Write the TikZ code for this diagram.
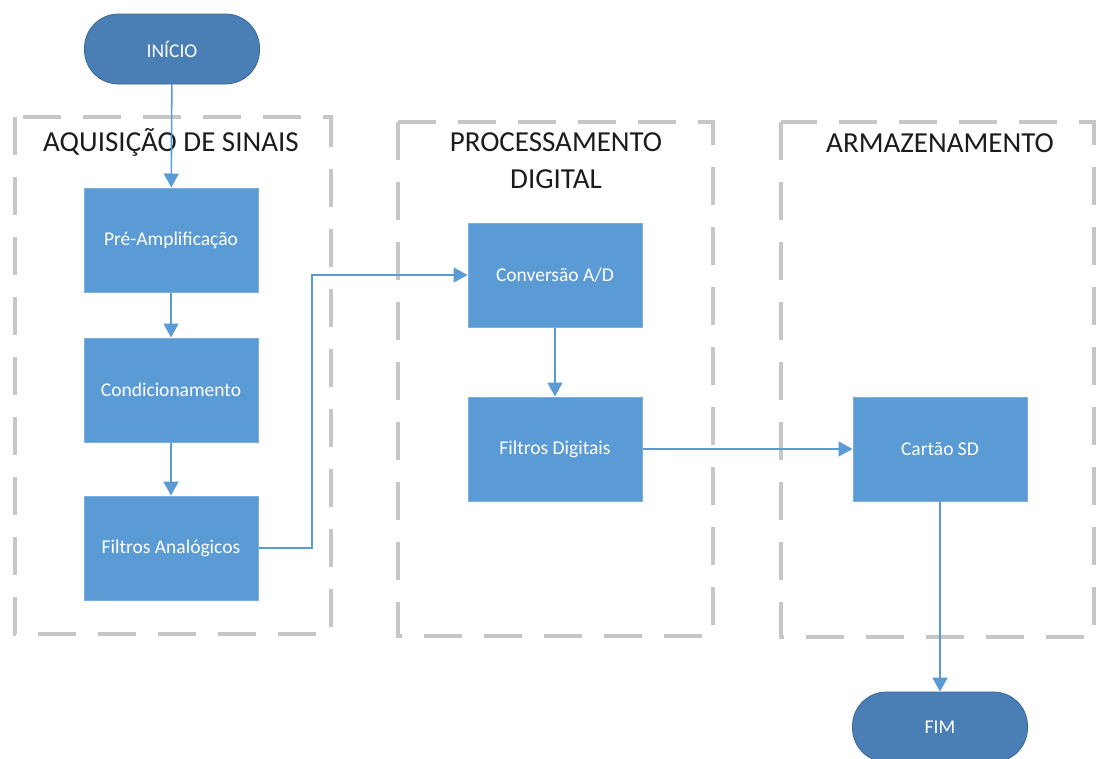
\documentclass[tikz,border=0pt]{standalone}
\usepackage{fontspec}
\setmainfont{Carlito}
\usetikzlibrary{arrows.meta}
\definecolor{boxblue}{HTML}{5B9BD5}
\definecolor{termblue}{HTML}{4A7FB6}
\definecolor{lineblue}{HTML}{5B9BD5}
\definecolor{framegray}{HTML}{C6C6C6}
\definecolor{titleink}{HTML}{1C1C1C}

\begin{document}
\begin{tikzpicture}[x=1pt,y=-1pt,
  stepbox/.style={draw=boxblue!80!white, fill=boxblue, line width=1pt,
    minimum width=174pt, minimum height=104pt, inner sep=0pt,
    text=white, font=\fontsize{19.5}{22}\selectfont},
  term/.style={draw=termblue!80!black, fill=termblue, line width=0.8pt,
    rounded corners=34pt, minimum width=175pt, minimum height=70pt,
    inner sep=0pt, text=white, font=\fontsize{19.5}{22}\selectfont},
  group/.style={draw=framegray, line width=4pt, dash pattern=on 38pt off 22pt},
  heading/.style={font=\fontsize{29}{37}\selectfont, text=titleink, align=center},
  flow/.style={draw=lineblue, line width=1.6pt,
    -{Triangle[length=14pt,width=15pt]}}]

\useasboundingbox (0,0) rectangle (1097,758);

% stage frames
\draw[group] (15,117) rectangle (331,634);
\draw[group] (398,122) rectangle (713,636);
\draw[group] (781,122) rectangle (1094,637);

% stage headings
\node[heading] (h1) at (171,142) {AQUISIÇÃO DE SINAIS};
\node[heading] (h2) at (556,161) {PROCESSAMENTO\\DIGITAL};
\node[heading] (h3) at (940,143) {ARMAZENAMENTO};

% terminals
\node[term] (ini) at (172,49) {INÍCIO};
\node[term] (fim) at (940,727) {FIM};

% process steps
\node[stepbox] (pre) at (171,240) {Pré-Amplificação};
\node[stepbox] (cond) at (171,390) {Condicionamento};
\node[stepbox] (fa) at (171,548) {Filtros Analógicos};
\node[stepbox] (cad) at (555,275) {Conversão A/D};
\node[stepbox] (fd) at (555,449) {Filtros Digitais};
\node[stepbox] (sd) at (940,449) {Cartão SD};

% flow
\coordinate (bend) at (312,0);
\draw[flow] (ini) -- (pre);
\draw[flow] (pre) -- (cond);
\draw[flow] (cond) -- (fa);
\draw[flow] (fa.east) -- (fa.east -| bend) |- (cad.west);
\draw[flow] (cad) -- (fd);
\draw[flow] (fd) -- (sd);
\draw[flow] (sd) -- (fim);
\end{tikzpicture}
\end{document}
